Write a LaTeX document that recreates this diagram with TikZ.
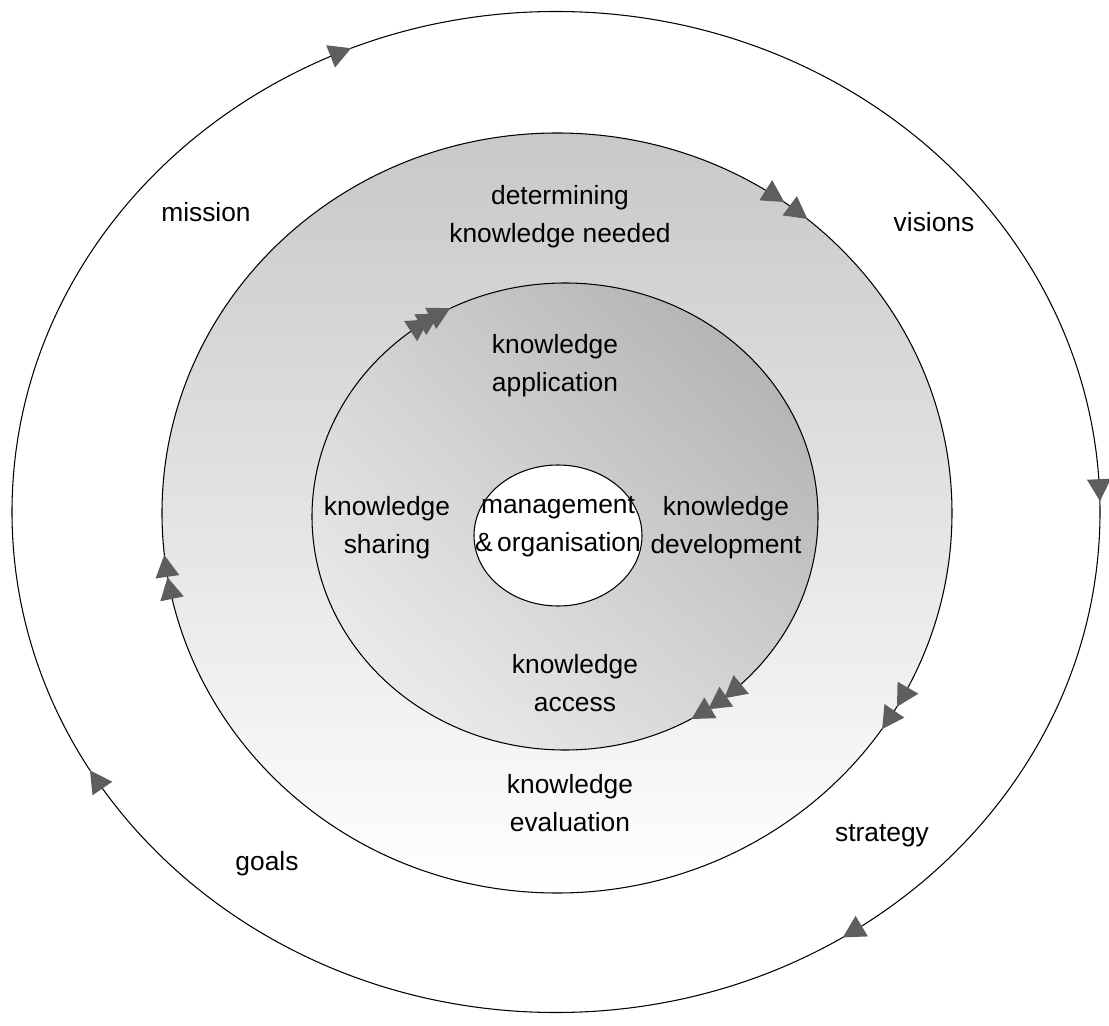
\documentclass[tikz,border=0pt]{standalone}
\usepackage{fontspec}
\setmainfont{Liberation Sans}
\usetikzlibrary{shadings}
\definecolor{tipgray}{HTML}{5E5E5E}
\definecolor{ringtop}{HTML}{C8C8C8}
\definecolor{discdark}{HTML}{A9A9A9}
\definecolor{discmid}{HTML}{D2D2D2}
\definecolor{disclight}{HTML}{F4F4F4}

\begin{document}
\begin{tikzpicture}[font=\fontsize{15}{21.6}\selectfont,
  lbl/.style={align=center,inner sep=1pt},
  arrowtri/.style={fill=tipgray},
  rim/.style={draw=black,line width=.6pt}]
\useasboundingbox (-11.12,-10.26) rectangle (11.06,10.24);
% outer cycle: mission, visions, strategy, goals
\draw[rim] (0,0) ellipse (10.88 and 10.01);
% middle ring, grey fading downwards
\shade[top color=ringtop,bottom color=white] (.02,-.02) ellipse (7.9 and 7.6);
\draw[rim] (.02,-.02) ellipse (7.9 and 7.6);
% inner disc, darker towards the upper right
\shade[upper right=discdark,lower left=disclight,upper left=discmid,lower right=discmid]
  (.18,-.09) ellipse (5.06 and 4.67);
\draw[rim] (.18,-.09) ellipse (5.06 and 4.67);
% core
\filldraw[rim,fill=white] (.04,-.47) ellipse (1.68 and 1.41);
% clockwise heads on each cycle
\foreach \t in {113.3,2.5,-57,212.3}
  \fill[arrowtri,shift={(\t:10.88cm and 10.01cm)},rotate={atan2(-10.01*cos(\t),10.88*sin(\t))}]
    (.22,0)--(-.22,.24)--(-.22,-.24)--cycle;
\begin{scope}[shift={(.02,-.02)}]
  \foreach \t in {56.5,52.3,-29,-33,188,191.4}
    \fill[arrowtri,shift={(\t:7.9cm and 7.6cm)},rotate={atan2(-7.6*cos(\t),7.9*sin(\t))}]
      (.22,0)--(-.22,.24)--(-.22,-.24)--cycle;
\end{scope}
\begin{scope}[shift={(.18,-.09)}]
  \foreach \t in {125,122.3,119.5,-57.5,-53,-48.5}
    \fill[arrowtri,shift={(\t:5.06cm and 4.67cm)},rotate={atan2(-4.67*cos(\t),5.06*sin(\t))}]
      (.22,0)--(-.22,.24)--(-.22,-.24)--cycle;
\end{scope}
% labels
\node[lbl] (mission) at (-7.0,6.0) {mission};
\node[lbl] (visions) at (7.56,5.8) {visions};
\node[lbl] (goals) at (-5.78,-7.04) {goals};
\node[lbl] (strategy) at (6.52,-6.48) {strategy};
\node[lbl] (needed) at (.08,5.9) {determining\\knowledge needed};
\node[lbl] (evaluation) at (.28,-5.82) {knowledge\\evaluation};
\node[lbl] (application) at (-.02,2.92) {knowledge\\application};
\node[lbl] (sharing) at (-3.38,-.32) {knowledge\\sharing};
\node[lbl] (development) at (3.4,-.32) {knowledge\\development};
\node[lbl] (access) at (.38,-3.42) {knowledge\\access};
\node[lbl] (core) at (.04,-.3) {management\\\&\,organisation};
\end{tikzpicture}
\end{document}
